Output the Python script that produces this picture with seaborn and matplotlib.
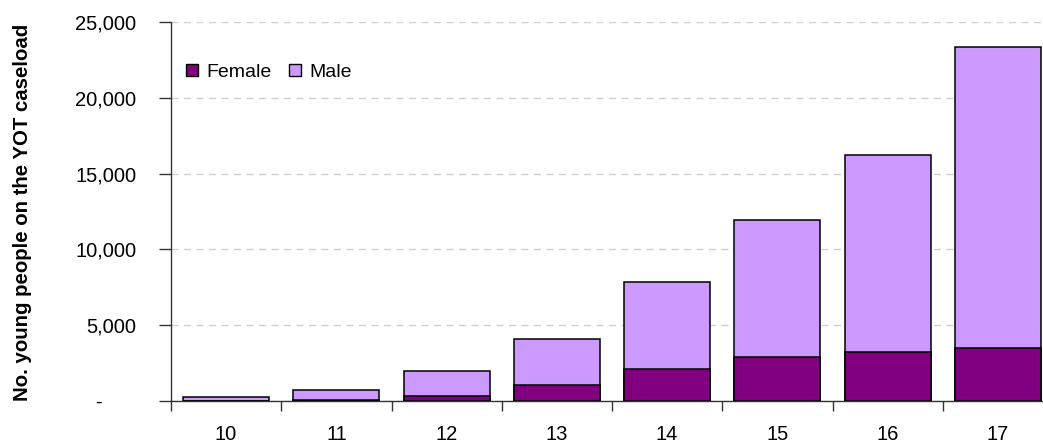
import matplotlib
matplotlib.use("Agg")
import matplotlib.pyplot as plt
import seaborn as sns
import pandas as pd
from matplotlib.patches import Patch
from matplotlib.ticker import FuncFormatter, FixedLocator

# --- data ---
ages = ["10", "11", "12", "13", "14", "15", "16", "17"]
female = [20, 50, 330, 1060, 2100, 2930, 3200, 3490]
male = [230, 660, 1670, 3000, 5750, 9030, 13040, 19890]

FEMALE_COLOR = "#800080"
MALE_COLOR = "#CC99FF"

df = pd.DataFrame({"age": ages, "Female": female, "Male": male})
df["total"] = df["Female"] + df["Male"]

sns.set_style("white")
plt.rcParams["font.family"] = ["Liberation Sans", "DejaVu Sans"]
plt.rcParams["text.color"] = "black"
plt.rcParams["xtick.color"] = "black"
plt.rcParams["ytick.color"] = "black"

fig = plt.figure(figsize=(10.43, 4.42), dpi=100)
ax = fig.add_axes([171 / 1043, 41 / 442, (1053 - 171) / 1043, 379 / 442])

# male sits on top of female, so draw the totals first then overlay female
sns.barplot(data=df, x="age", y="total", color=MALE_COLOR, edgecolor="black",
            linewidth=1.1, width=0.78, saturation=1, ax=ax, zorder=2)
sns.barplot(data=df, x="age", y="Female", color=FEMALE_COLOR, edgecolor="black",
            linewidth=1.1, width=0.78, saturation=1, ax=ax, zorder=3)

ax.set_xlim(-0.5, len(ages) - 0.5)
ax.set_ylim(0, 25000)
ax.set_yticks(range(0, 25001, 5000))
ax.yaxis.set_major_formatter(FuncFormatter(lambda v, p: "-      " if v == 0 else f"{v:,.0f}"))
ax.yaxis.grid(True, color="#cfcfcf", linestyle=(0, (5, 4)), linewidth=1.0, zorder=0)
ax.set_axisbelow(True)

# excel style: tick marks between categories, labels in the middle
ax.xaxis.set_minor_locator(FixedLocator([i - 0.5 for i in range(len(ages) + 1)]))
ax.tick_params(axis="x", which="major", length=0, pad=17, labelsize=14.5)
ax.tick_params(axis="x", which="minor", length=7, width=1, color="#333333", direction="out", bottom=True)
ax.tick_params(axis="y", length=9, width=1, color="#333333", direction="out", left=True,
               pad=16, labelsize=14.5)

for s in ["top", "right"]:
    ax.spines[s].set_visible(False)
for s in ["left", "bottom"]:
    ax.spines[s].set_color("#333333")
    ax.spines[s].set_linewidth(1.0)

ax.set_xlabel("")
ax.set_ylabel("")
fig.text(23 / 1043, 1 - 212 / 442, "No. young people on the YOT caseload", rotation=90,
         ha="center", va="center", fontsize=14.7, fontweight="bold")

handles = [Patch(facecolor=FEMALE_COLOR, edgecolor="black", linewidth=1.0, label="Female"),
           Patch(facecolor=MALE_COLOR, edgecolor="black", linewidth=1.0, label="Male")]
ax.legend(handles=handles, loc="upper left", bbox_to_anchor=(-0.003, 0.935), ncol=2,
          frameon=False, fontsize=14, handlelength=0.6, handleheight=0.55,
          handletextpad=0.45, columnspacing=0.9)

fig.savefig("out.png", dpi=100)
